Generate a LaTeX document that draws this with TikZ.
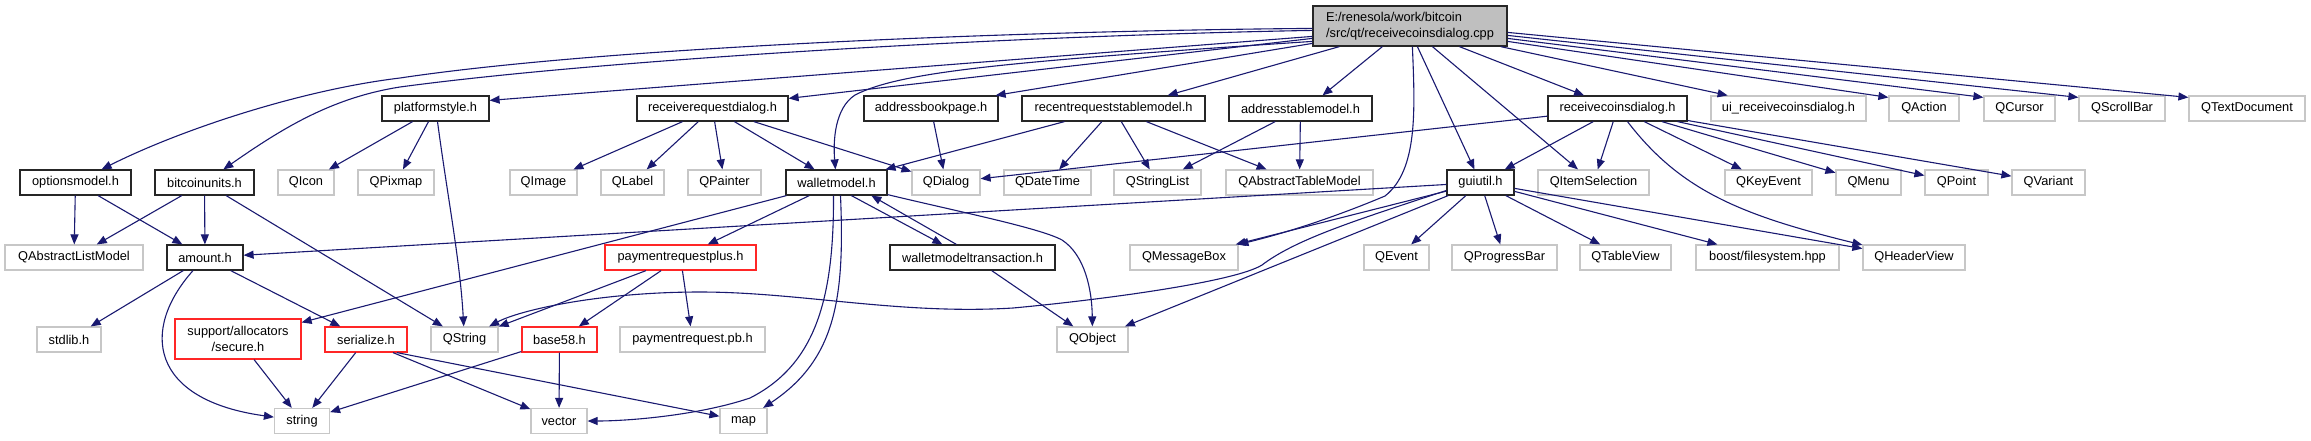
\documentclass[tikz,border=0pt]{standalone}
\usepackage{fontspec}
\setmainfont{Liberation Sans}
\usetikzlibrary{arrows.meta,calc}
\definecolor{edgec}{RGB}{25,25,112}
\newcommand\nodefont{\fontsize{12.8}{15.5}\selectfont}
\tikzset{
 nb/.style={draw, minimum height=25pt, inner sep=0pt, font=\nodefont, line width=1.2pt},
 blk/.style={nb, draw=black!85},
 ext/.style={nb, draw=black!22},
 redb/.style={nb, draw=red!85!white},
 mainb/.style={nb, draw=black!85, fill=black!25, minimum height=40pt, align=left},
 e/.style={draw=edgec, line width=1.1pt, -{Triangle[length=10pt,width=8pt]}}
}
\begin{document}
\begin{tikzpicture}[x=1pt,y=-1pt]
\useasboundingbox (0,0) rectangle (2311,440);
% nodes
\node[mainb, minimum width=194pt] (main) at (1410,26) {E:/renesola/work/bitcoin\\/src/qt/receivecoinsdialog.cpp};
\node[blk, minimum width=111pt] (optionsmodel) at (75.5,182.5) {optionsmodel.h};
\node[blk, minimum width=99pt] (bitcoinunits) at (204.5,182.5) {bitcoinunits.h};
\node[ext, minimum width=56pt] (QIcon) at (306,182.5) {QIcon};
\node[ext, minimum width=76pt] (QPixmap) at (396,182.5) {QPixmap};
\node[blk, minimum width=107pt] (platformstyle) at (435.5,108.5) {platformstyle.h};
\node[blk, minimum width=151pt] (receiverequestdialog) at (712.5,108.5) {receiverequestdialog.h};
\node[ext, minimum width=67pt] (QImage) at (543.5,182.5) {QImage};
\node[ext, minimum width=63pt] (QLabel) at (632.5,182.5) {QLabel};
\node[ext, minimum width=73pt] (QPainter) at (724.5,182.5) {QPainter};
\node[blk, minimum width=101pt] (walletmodel) at (836.5,182.5) {walletmodel.h};
\node[ext, minimum width=68pt] (QDialog) at (946,182.5) {QDialog};
\node[blk, minimum width=134pt] (addressbookpage) at (931,108.5) {addressbookpage.h};
\node[blk, minimum width=183pt] (recentrequeststablemodel) at (1113.5,108.5) {recentrequeststablemodel.h};
\node[ext, minimum width=87pt] (QDateTime) at (1047.5,182.5) {QDateTime};
\node[ext, minimum width=87pt] (QStringList) at (1157.5,182.5) {QStringList};
\node[blk, minimum width=143pt] (addresstablemodel) at (1300.5,108.5) {addresstablemodel.h};
\node[ext, minimum width=147pt] (QAbstractTableModel) at (1299.5,182.5) {QAbstractTableModel};
\node[blk, minimum width=67pt] (guiutil) at (1480.5,182.5) {guiutil.h};
\node[ext, minimum width=111pt] (QItemSelection) at (1593.5,182.5) {QItemSelection};
\node[blk, minimum width=139pt] (receivecoinsdialog) at (1617.5,108.5) {receivecoinsdialog.h};
\node[ext, minimum width=155pt] (uirc) at (1788.5,108.5) {ui\_receivecoinsdialog.h};
\node[ext, minimum width=70pt] (QAction) at (1924,108.5) {QAction};
\node[ext, minimum width=71pt] (QCursor) at (2019.5,108.5) {QCursor};
\node[ext, minimum width=86pt] (QScrollBar) at (2122,108.5) {QScrollBar};
\node[ext, minimum width=116pt] (QTextDocument) at (2247,108.5) {QTextDocument};
\node[ext, minimum width=87pt] (QKeyEvent) at (1768.5,182.5) {QKeyEvent};
\node[ext, minimum width=65pt] (QMenu) at (1868.5,182.5) {QMenu};
\node[ext, minimum width=63pt] (QPoint) at (1956.5,182.5) {QPoint};
\node[ext, minimum width=73pt] (QVariant) at (2048.5,182.5) {QVariant};
\node[ext, minimum width=138pt] (QAbstractListModel) at (74,257.5) {QAbstractListModel};
\node[blk, minimum width=76pt] (amount) at (205,257.5) {amount.h};
\node[redb, minimum width=151pt] (paymentrequestplus) at (680.5,257.5) {paymentrequestplus.h};
\node[blk, minimum width=165pt] (walletmodeltransaction) at (972.5,257.5) {walletmodeltransaction.h};
\node[ext, minimum width=108pt] (QMessageBox) at (1184,257.5) {QMessageBox};
\node[ext, minimum width=65pt] (QEvent) at (1396.5,257.5) {QEvent};
\node[ext, minimum width=105pt] (QProgressBar) at (1504.5,257.5) {QProgressBar};
\node[ext, minimum width=91pt] (QTableView) at (1625.5,257.5) {QTableView};
\node[ext, minimum width=143pt] (boost) at (1767.5,257.5) {boost/filesystem.hpp};
\node[ext, minimum width=102pt] (QHeaderView) at (1914,257.5) {QHeaderView};
\node[ext, minimum width=64pt] (stdlib) at (69,339.5) {stdlib.h};
\node[redb, minimum width=126pt, minimum height=40pt, align=center] (secure) at (238,339) {support/allocators\\/secure.h};
\node[redb, minimum width=82pt] (serialize) at (366,339.5) {serialize.h};
\node[ext, minimum width=67pt] (QString) at (464.5,339.5) {QString};
\node[redb, minimum width=75pt] (base58) at (559.5,339.5) {base58.h};
\node[ext, minimum width=145pt] (paymentrequestpb) at (692.5,339.5) {paymentrequest.pb.h};
\node[ext, minimum width=71pt] (QObject) at (1092.5,339.5) {QObject};
\node[ext, minimum width=55pt] (string) at (302,421) {string};
\node[ext, minimum width=56pt] (vector) at (559,421) {vector};
\node[ext, minimum width=47pt] (map) at (743.5,421) {map};
% edges from main
\draw[e] ($(main.north west)+(0,23)$) .. controls (1000,31) and (600,48) .. (400,78) .. controls (300,90) and (180,130) .. (optionsmodel);
\draw[e] ($(main.north west)+(0,25)$) .. controls (1000,36) and (600,60) .. (400,87) .. controls (330,98) and (280,130) .. (bitcoinunits);
\draw[e] ($(main.north west)+(0,31)$) -- ($(platformstyle.north east)+(0,5)$);
\draw[e] ($(main.north west)+(0,33)$) -- ($(receiverequestdialog.north east)+(0,3)$);
\draw[e] ($(main.north west)+(0,36)$) .. controls (1000,62) and (900,72) .. (855,95) .. controls (835,108) and (833,140) .. (walletmodel);
\draw[e] ($(main.north west)+(0,38)$) -- ($(addressbookpage.north east)+(-3,0)$);
\draw[e] ($(main.south west)+(27,0)$) -- ($(recentrequeststablemodel.north east)+(-38,0)$);
\draw[e] ($(main.south west)+(70,0)$) -- ($(addresstablemodel.north)+(22,0)$);
\draw[e] ($(main.south west)+(100,0)$) .. controls (1415,110) and (1418,170) .. (1385,196) .. controls (1340,215) and (1290,232) .. (QMessageBox);
\draw[e] ($(main.south west)+(105,0)$) -- (guiutil);
\draw[e] ($(main.south west)+(120,0)$) -- (QItemSelection);
\draw[e] ($(main.south west)+(147,0)$) -- (receivecoinsdialog);
\draw[e] ($(main.south east)+(-7,0)$) -- (uirc);
\draw[e] ($(main.north east)+(0,36)$) -- ($(QAction.north west)+(0,2)$);
\draw[e] ($(main.north east)+(0,33)$) -- ($(QCursor.north west)+(0,2)$);
\draw[e] ($(main.north east)+(0,30)$) -- ($(QScrollBar.north west)+(0,2)$);
\draw[e] ($(main.north east)+(0,27)$) -- ($(QTextDocument.north west)+(0,2)$);
% platformstyle
\draw[e] (platformstyle) -- (QIcon);
\draw[e] (platformstyle) -- (QPixmap);
\draw[e] ($(platformstyle.south)+(2,0)$) .. controls (448,200) and (460,260) .. (QString);
% receiverequestdialog
\draw[e] (receiverequestdialog) -- (QImage);
\draw[e] (receiverequestdialog) -- (QLabel);
\draw[e] (receiverequestdialog) -- (QPainter);
\draw[e] (receiverequestdialog) -- (walletmodel);
\draw[e] (receiverequestdialog) -- (QDialog);
\draw[e] (addressbookpage) -- (QDialog);
% recentrequeststablemodel
\draw[e] (recentrequeststablemodel) -- (walletmodel);
\draw[e] (recentrequeststablemodel) -- (QDateTime);
\draw[e] (recentrequeststablemodel) -- (QStringList);
\draw[e] (recentrequeststablemodel) -- (QAbstractTableModel);
\draw[e] (addresstablemodel) -- (QStringList);
\draw[e] (addresstablemodel) -- (QAbstractTableModel);
% receivecoinsdialog.h
\draw[e] (receivecoinsdialog) -- (QDialog);
\draw[e] (receivecoinsdialog) -- (guiutil);
\draw[e] (receivecoinsdialog) -- (QItemSelection);
\draw[e] (receivecoinsdialog) -- (QKeyEvent);
\draw[e] (receivecoinsdialog) -- (QMenu);
\draw[e] (receivecoinsdialog) -- (QPoint);
\draw[e] (receivecoinsdialog) -- (QVariant);
\draw[e] ($(receivecoinsdialog.south)+(10,0)$) .. controls (1680,190) and (1740,215) .. (QHeaderView);
% guiutil
\draw[e] (guiutil) -- (amount);
\draw[e] (guiutil) -- (QMessageBox);
\draw[e] (guiutil) -- (QObject);
\draw[e] (guiutil) -- (QEvent);
\draw[e] (guiutil) -- (QProgressBar);
\draw[e] (guiutil) -- (QTableView);
\draw[e] (guiutil) -- (boost);
\draw[e] (guiutil) -- (QHeaderView);
\draw[e] ($(guiutil.west)+(0,8)$) .. controls (1350,222) and (1295,240) .. (1262,265) .. controls (1235,282) and (1100,300) .. (1013,308) .. controls (900,315) and (800,292) .. (700,292) .. controls (600,292) and (520,310) .. (QString);
% walletmodel
\draw[e] (walletmodel) -- (paymentrequestplus);
\draw[e] (walletmodel) -- (secure);
\draw[e] ($(walletmodel.south west)+(66,0)$) -- ($(walletmodeltransaction.north west)+(53,0)$);
\draw[e] ($(walletmodeltransaction.north west)+(67,0)$) -- ($(walletmodel.south west)+(86,0)$);
\draw[e] ($(walletmodel.south east)+(0,-1)$) .. controls (960,212) and (1040,228) .. (1062,240) .. controls (1085,255) and (1092,290) .. (QObject);
\draw[e] ($(walletmodel.south)+(-3,0)$) .. controls (834,300) and (815,365) .. (750,398) .. controls (700,415) and (630,421) .. (vector);
\draw[e] ($(walletmodel.south)+(4,0)$) .. controls (845,300) and (835,360) .. (map);
\draw[e] (walletmodeltransaction) -- (QObject);
% options / bitcoinunits
\draw[e] (optionsmodel) -- (QAbstractListModel);
\draw[e] (optionsmodel) -- (amount);
\draw[e] (bitcoinunits) -- (QAbstractListModel);
\draw[e] (bitcoinunits) -- (amount);
\draw[e] (bitcoinunits) -- (QString);
% amount
\draw[e] (amount) -- (stdlib);
\draw[e] (amount) -- (serialize);
\draw[e] ($(amount.south)+(-12,0)$) .. controls (140,330) and (150,400) .. (string);
% paymentrequestplus
\draw[e] (paymentrequestplus) -- (QString);
\draw[e] (paymentrequestplus) -- (base58);
\draw[e] (paymentrequestplus) -- (paymentrequestpb);
% lower
\draw[e] (secure) -- (string);
\draw[e] (serialize) -- (string);
\draw[e] ($(serialize.south)+(27,0)$) -- (vector);
\draw[e] ($(serialize.south)+(31,0)$) -- (map);
\draw[e] (base58) -- (vector);
\draw[e] (base58) -- (string);
\end{tikzpicture}
\end{document}
